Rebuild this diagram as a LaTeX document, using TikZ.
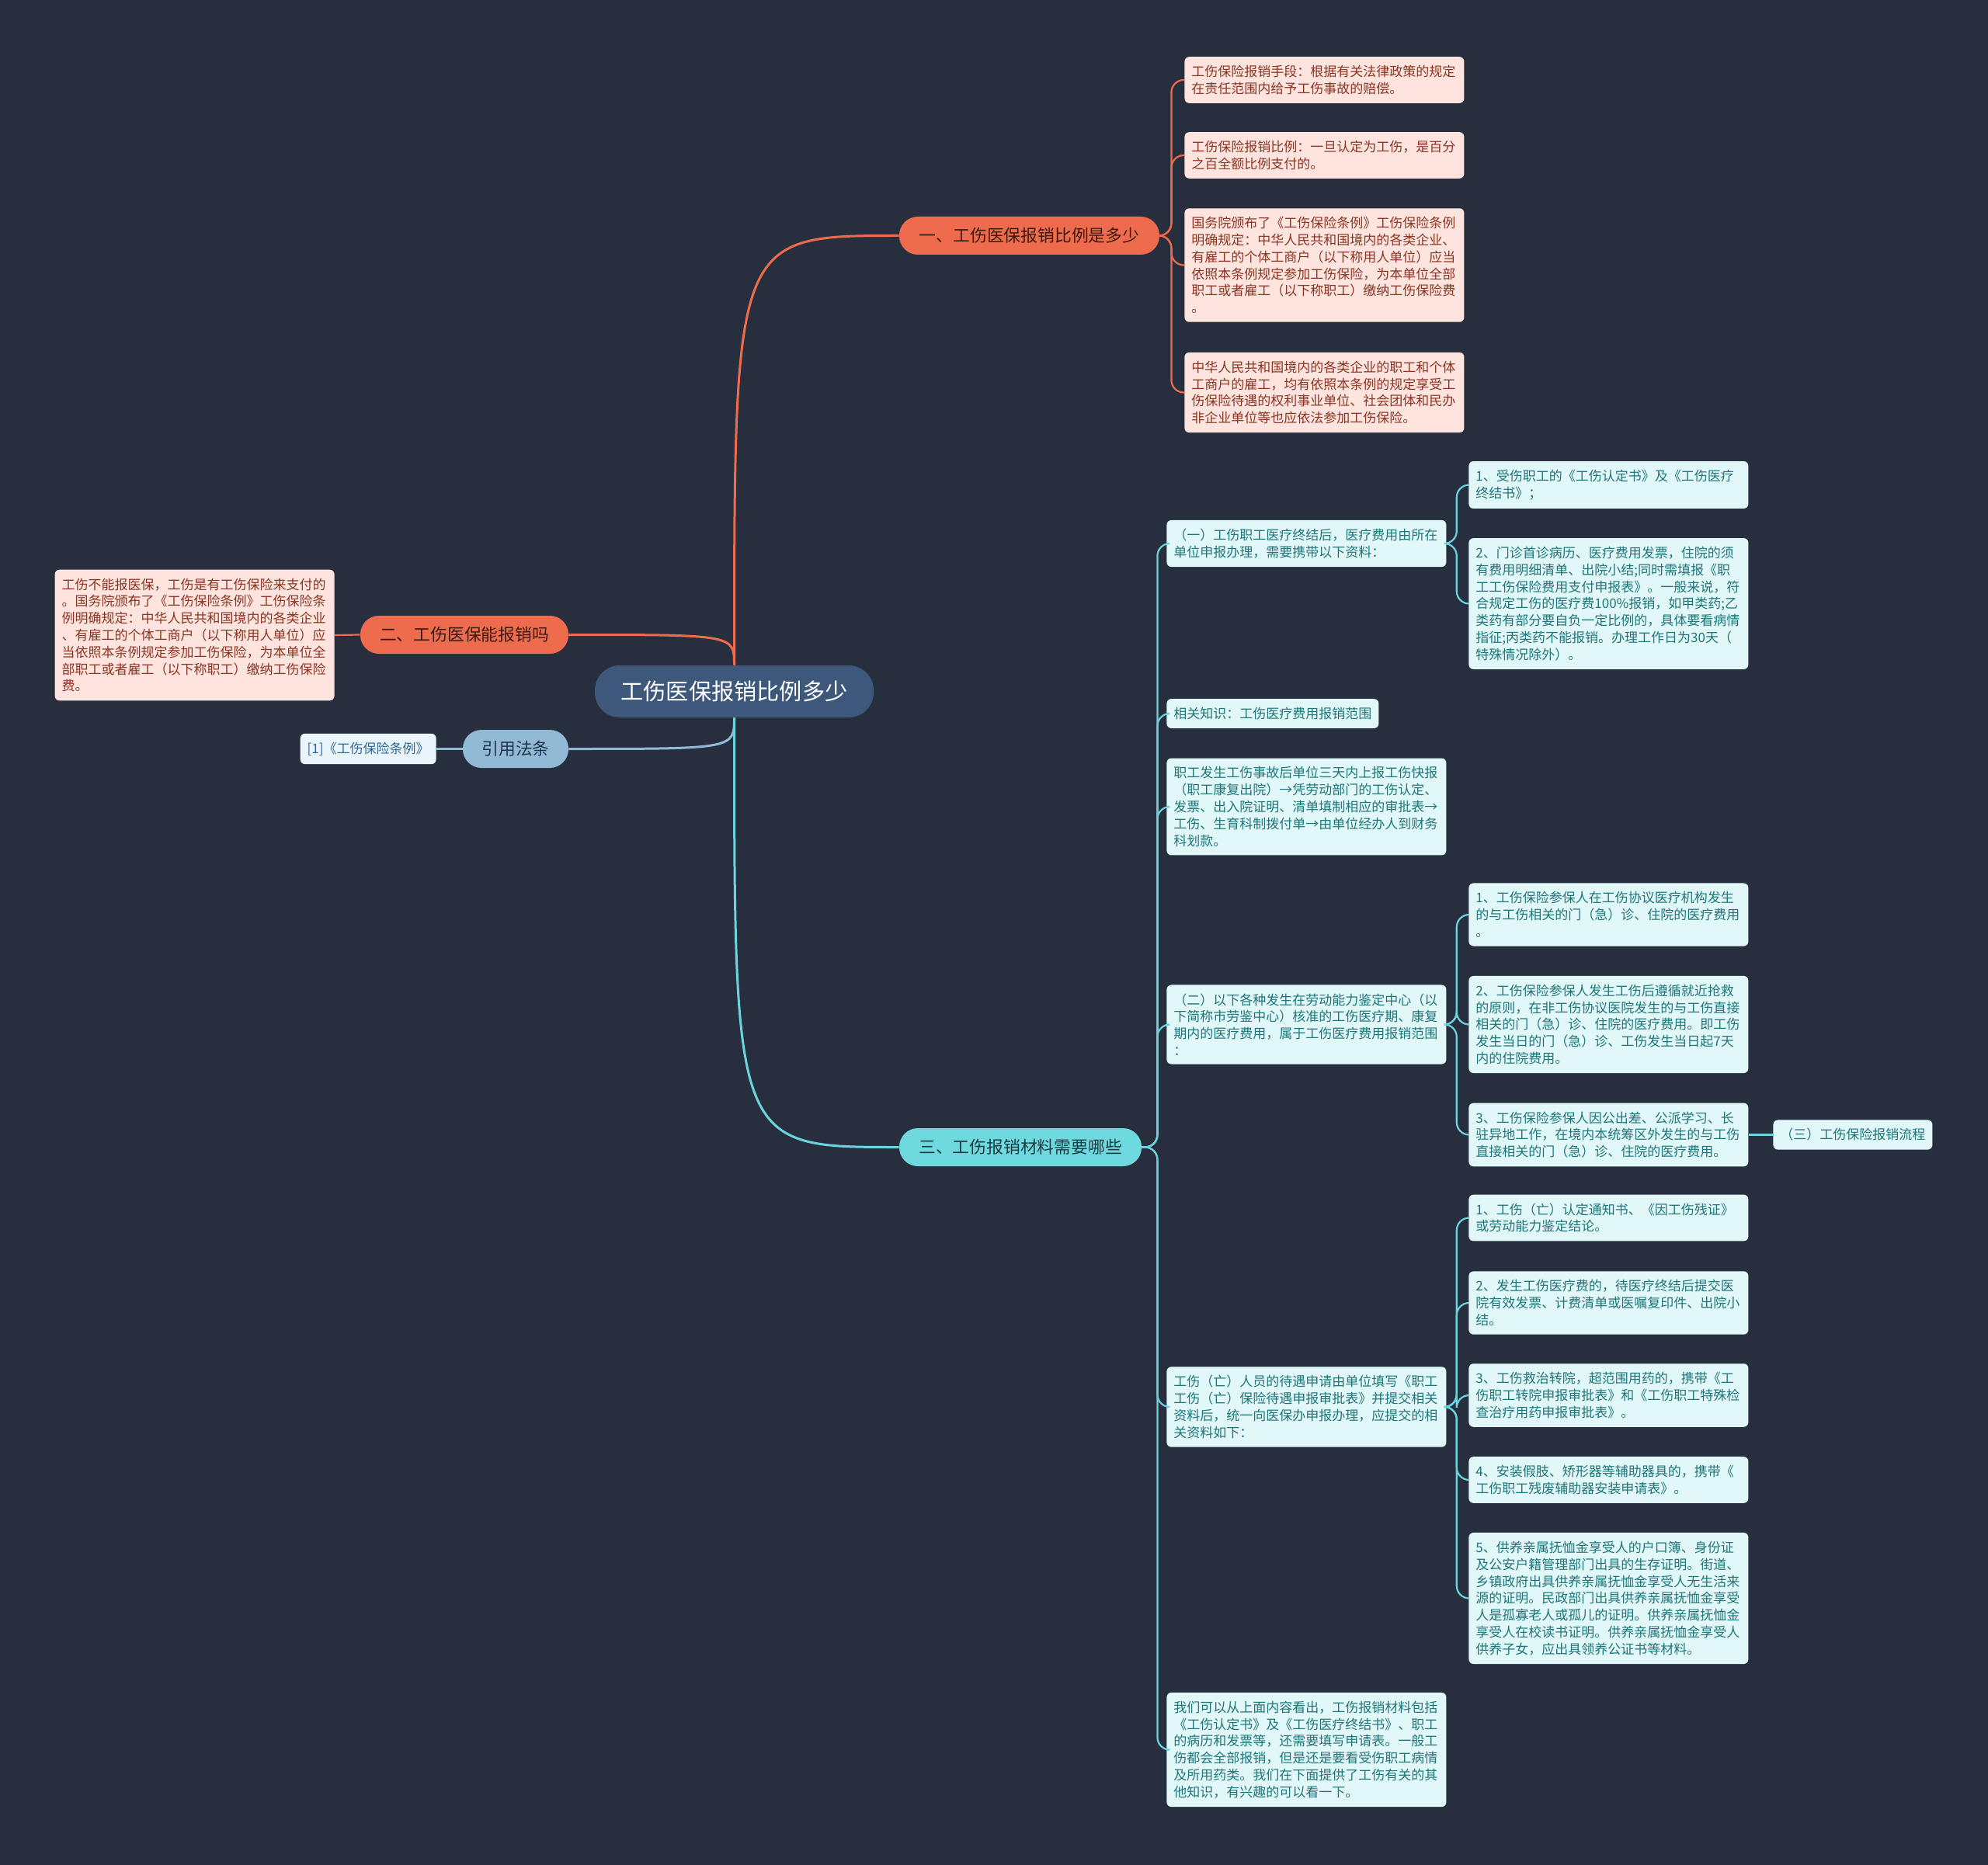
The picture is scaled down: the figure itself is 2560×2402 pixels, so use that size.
\documentclass[tikz,border=0pt]{standalone}
\usepackage{fontspec}
\setmainfont{Noto Sans CJK SC}
\definecolor{bgc}{RGB}{39,47,62}
\definecolor{rootc}{RGB}{62,88,124}
\definecolor{orng}{RGB}{238,108,77}
\definecolor{orngtext}{RGB}{58,26,18}
\definecolor{redleafc}{RGB}{253,228,222}
\definecolor{redtext}{RGB}{140,52,34}
\definecolor{citec}{RGB}{146,186,214}
\definecolor{citetext}{RGB}{32,52,76}
\definecolor{citeleafc}{RGB}{234,245,251}
\definecolor{citeleaftext}{RGB}{46,104,150}
\definecolor{cyanc}{RGB}{110,218,224}
\definecolor{cyantext}{RGB}{28,60,66}
\definecolor{cyanleafc}{RGB}{225,247,248}
\definecolor{cyanleaftext}{RGB}{30,118,122}
\definecolor{cyanline}{RGB}{108,212,222}
\begin{document}
\begin{tikzpicture}[x=0.5pt,y=-0.5pt,
  root/.style={fill=rootc,text=white,rounded corners=16pt,minimum width=179.5pt,minimum height=33.5pt,font=\fontsize{14.6}{17}\selectfont},
  main/.style={rounded corners=12pt,minimum height=24.5pt,font=\fontsize{10.9}{13}\selectfont},
  leaf/.style={rounded corners=3pt,inner xsep=4.5pt,inner ysep=5.5pt,align=left,font=\fontsize{8.5}{10.9}\selectfont},
  wide/.style={leaf,text width=171pt},
  redleaf/.style={wide,fill=redleafc,text=redtext},
  cyanleaf/.style={wide,fill=cyanleafc,text=cyanleaftext},
  trunkR/.style={orng,line width=1.5pt},
  trunkB/.style={citec,line width=1.5pt},
  trunkC/.style={cyanline,line width=1.5pt},
  linkR/.style={orng,line width=1.1pt,rounded corners=8pt},
  linkB/.style={citec,line width=1.1pt},
  linkC/.style={cyanline,line width=1.1pt,rounded corners=8pt}]
\fill[bgc] (0,0) rectangle (2560,2402);
\useasboundingbox (0,0) rectangle (2560,2402);

\node[root] (root) at (945.5,890.5) {工伤医保报销比例多少};
\node[main,fill=orng,text=orngtext,minimum width=167.5pt] (b1) at (1325.5,303.5) {一、工伤医保报销比例是多少};
\node[main,fill=orng,text=orngtext,minimum width=134pt] (b2) at (598,817.5) {二、工伤医保能报销吗};
\node[main,fill=citec,text=citetext,minimum width=68pt] (law) at (664,964.5) {引用法条};
\node[main,fill=cyanc,text=cyantext,minimum width=156pt] (b3) at (1314,1477.5) {三、工伤报销材料需要哪些};

% branch one
\node[redleaf,anchor=west] (s1) at (1525,103) {工伤保险报销手段：根据有关法律政策的规定\\在责任范围内给予工伤事故的赔偿。};
\node[redleaf,anchor=west] (s2) at (1525,200) {工伤保险报销比例：一旦认定为工伤，是百分\\之百全额比例支付的。};
\node[redleaf,anchor=west] (s3) at (1525,341.5) {国务院颁布了《工伤保险条例》工伤保险条例\\明确规定：中华人民共和国境内的各类企业、\\有雇工的个体工商户（以下称用人单位）应当\\依照本条例规定参加工伤保险，为本单位全部\\职工或者雇工（以下称职工）缴纳工伤保险费\\。};
\node[redleaf,anchor=west] (s4) at (1525,505.5) {中华人民共和国境内的各类企业的职工和个体\\工商户的雇工，均有依照本条例的规定享受工\\伤保险待遇的权利事业单位、社会团体和民办\\非企业单位等也应依法参加工伤保险。};

% branch two and the cited law
\node[redleaf,anchor=east] (t1) at (431,818) {工伤不能报医保，工伤是有工伤保险来支付的\\。国务院颁布了《工伤保险条例》工伤保险条\\例明确规定：中华人民共和国境内的各类企业\\、有雇工的个体工商户（以下称用人单位）应\\当依照本条例规定参加工伤保险，为本单位全\\部职工或者雇工（以下称职工）缴纳工伤保险\\费。};
\node[leaf,fill=citeleafc,text=citeleaftext,anchor=east] (ref1) at (562,964.5) {[1]《工伤保险条例》};

% branch three
\node[cyanleaf,anchor=west] (m1) at (1502,700) {（一）工伤职工医疗终结后，医疗费用由所在\\单位申报办理，需要携带以下资料：};
\node[leaf,fill=cyanleafc,text=cyanleaftext,anchor=west] (m2) at (1502,919) {相关知识：工伤医疗费用报销范围};
\node[cyanleaf,anchor=west] (m3) at (1502,1039) {职工发生工伤事故后单位三天内上报工伤快报\\（职工康复出院）→凭劳动部门的工伤认定、\\发票、出入院证明、清单填制相应的审批表→\\工伤、生育科制拨付单→由单位经办人到财务\\科划款。};
\node[cyanleaf,anchor=west] (m4) at (1502,1319.5) {（二）以下各种发生在劳动能力鉴定中心（以\\下简称市劳鉴中心）核准的工伤医疗期、康复\\期内的医疗费用，属于工伤医疗费用报销范围\\：};
\node[cyanleaf,anchor=west] (m5) at (1502,1812) {工伤（亡）人员的待遇申请由单位填写《职工\\工伤（亡）保险待遇申报审批表》并提交相关\\资料后，统一向医保办申报办理，应提交的相\\关资料如下：};
\node[cyanleaf,anchor=west] (m6) at (1502,2253.5) {我们可以从上面内容看出，工伤报销材料包括\\《工伤认定书》及《工伤医疗终结书》、职工\\的病历和发票等，还需要填写申请表。一般工\\伤都会全部报销，但是还是要看受伤职工病情\\及所用药类。我们在下面提供了工伤有关的其\\他知识，有兴趣的可以看一下。};

\node[cyanleaf,anchor=west] (m1a) at (1891,624.5) {1、受伤职工的《工伤认定书》及《工伤医疗\\终结书》；};
\node[cyanleaf,anchor=west] (m1b) at (1891,777.5) {2、门诊首诊病历、医疗费用发票，住院的须\\有费用明细清单、出院小结;同时需填报《职\\工工伤保险费用支付申报表》。一般来说，符\\合规定工伤的医疗费100\%报销，如甲类药;乙\\类药有部分要自负一定比例的，具体要看病情\\指征;丙类药不能报销。办理工作日为30天（\\特殊情况除外）。};
\node[cyanleaf,anchor=west] (m4a) at (1891,1178) {1、工伤保险参保人在工伤协议医疗机构发生\\的与工伤相关的门（急）诊、住院的医疗费用\\。};
\node[cyanleaf,anchor=west] (m4b) at (1891,1319.5) {2、工伤保险参保人发生工伤后遵循就近抢救\\的原则，在非工伤协议医院发生的与工伤直接\\相关的门（急）诊、住院的医疗费用。即工伤\\发生当日的门（急）诊、工伤发生当日起7天\\内的住院费用。};
\node[cyanleaf,anchor=west] (m4c) at (1891,1461.5) {3、工伤保险参保人因公出差、公派学习、长\\驻异地工作，在境内本统筹区外发生的与工伤\\直接相关的门（急）诊、住院的医疗费用。};
\node[leaf,fill=cyanleafc,text=cyanleaftext,anchor=west] (m4d) at (2283,1461.5) {（三）工伤保险报销流程};
\node[cyanleaf,anchor=west] (m5a) at (1891,1568.5) {1、工伤（亡）认定通知书、《因工伤残证》\\或劳动能力鉴定结论。};
\node[cyanleaf,anchor=west] (m5b) at (1891,1678) {2、发生工伤医疗费的，待医疗终结后提交医\\院有效发票、计费清单或医嘱复印件、出院小\\结。};
\node[cyanleaf,anchor=west] (m5c) at (1891,1797) {3、工伤救治转院，超范围用药的，携带《工\\伤职工转院申报审批表》和《工伤职工特殊检\\查治疗用药申报审批表》。};
\node[cyanleaf,anchor=west] (m5d) at (1891,1906) {4、安装假肢、矫形器等辅助器具的，携带《\\工伤职工残废辅助器安装申请表》。};
\node[cyanleaf,anchor=west] (m5e) at (1891,2058.5) {5、供养亲属抚恤金享受人的户口簿、身份证\\及公安户籍管理部门出具的生存证明。街道、\\乡镇政府出具供养亲属抚恤金享受人无生活来\\源的证明。民政部门出具供养亲属抚恤金享受\\人是孤寡老人或孤儿的证明。供养亲属抚恤金\\享受人在校读书证明。供养亲属抚恤金享受人\\供养子女，应出具领养公证书等材料。};

% connectors
\draw[trunkR] (root.north) .. controls (root.north |- b1.west) .. (b1.west);
\draw[trunkR] (root.north) .. controls (root.north |- b2.east) .. (b2.east);
\draw[trunkB] (root.south) .. controls (root.south |- law.east) .. (law.east);
\draw[trunkC] (root.south) .. controls (root.south |- b3.west) .. (b3.west);
\foreach \n in {s1,s2,s3,s4}
  \draw[linkR] (b1.east) -- ++(15,0) |- (\n.west);
\draw[linkR] (b2.west) -- (t1.east);
\draw[linkB] (law.west) -- (ref1.east);
\foreach \n in {m1,m2,m3,m4,m5,m6}
  \draw[linkC] (b3.east) -- ++(20,0) |- (\n.west);
\foreach \n in {m1a,m1b}
  \draw[linkC] (m1.east) -- ++(13,0) |- (\n.west);
\foreach \n in {m4a,m4b,m4c}
  \draw[linkC] (m4.east) -- ++(13,0) |- (\n.west);
\draw[linkC] (m4c.east) -- (m4d.west);
\foreach \n in {m5a,m5b,m5c,m5d,m5e}
  \draw[linkC] (m5.east) -- ++(13,0) |- (\n.west);
\end{tikzpicture}
\end{document}
